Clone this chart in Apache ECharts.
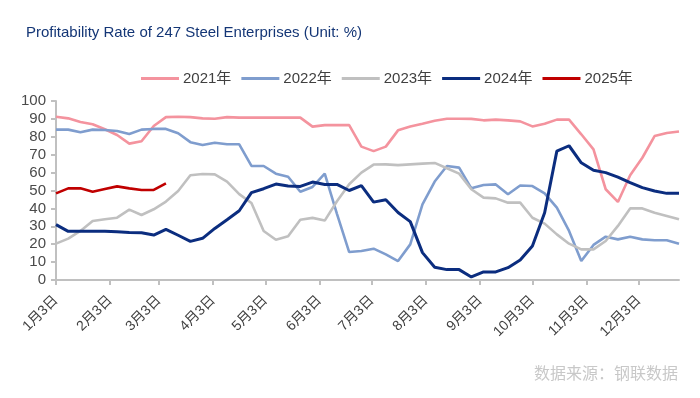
<!DOCTYPE html>
<html>
<head>
<meta charset="utf-8">
<script src="https://cdn.jsdelivr.net/npm/echarts@6/dist/echarts.min.js"></script>
<style>
  html, body { margin: 0; padding: 0; background: #fff; }
  #main { width: 700px; height: 398px; }
</style>
</head>
<body>
<div id="main"></div>
<script>
// weekly profitability rate (%), one value per week starting 1月3日
var y2021 = [91.2, 90.3, 88.3, 87, 84.2, 81, 76.2, 77.5, 86, 91, 91.2, 91, 90.3, 90.1, 91, 90.7, 90.7, 90.7, 90.7, 90.7,
  90.7, 85.7, 86.5, 86.5, 86.5, 74.5, 72, 74.5, 83.6, 85.7, 87.3, 89, 90.1, 90.1, 90, 89.2, 89.6, 89.2, 88.6, 85.8,
  87.3, 89.6, 89.6, 81.4, 73, 50.7, 43.6, 58.5, 68.3, 80.4, 82.1, 83];
var y2022 = [84, 84, 82.5, 84, 83.8, 83.2, 81.6, 84, 84.4, 84.4, 82, 77, 75.4, 76.7, 75.8, 75.8, 63.7, 63.7, 59.4, 57.7,
  49.3, 52, 59.4, 37, 15.6, 16.2, 17.5, 14.3, 10.6, 19.9, 42.3, 55, 63.7, 62.8, 51.2, 53.1, 53.4, 47.9, 52.8, 52.5,
  48.4, 40.4, 27.4, 10.6, 19.6, 24.2, 22.7, 24.2, 22.7, 22.2, 22.2, 20.3];
var y2023 = [20.3, 23.1, 27.4, 33, 33.9, 34.8, 39.3, 36.3, 39.5, 43.8, 49.7, 58.5, 59.2, 59, 55, 48, 43, 27.4, 22.5, 24.4,
  33.7, 34.7, 33.2, 44, 53.5, 60, 64.5, 64.6, 64.2, 64.6, 65, 65.4, 62.4, 59.4, 50.7, 46, 45.6, 43.2, 43.2, 34.8,
  31.5, 25.5, 20.3, 17.1, 17.1, 21.8, 30.2, 40, 40, 37.6, 35.8, 33.9];
var y2024 = [30.9, 27.2, 27.2, 27.2, 27.2, 27, 26.6, 26.4, 25.1, 28.3, 25, 21.6, 23.3, 28.8, 33.7, 38.7, 48.8, 51, 53.6, 52.5,
  52.3, 54.7, 53.4, 53.4, 50, 52.7, 43.5, 44.8, 37.7, 32.6, 15.3, 7.1, 5.8, 5.8, 1.7, 4.5, 4.5, 6.9, 11.2, 19,
  37.6, 72, 75, 65.5, 61.3, 60, 57.5, 54.4, 51.6, 49.7, 48.4, 48.4];
var y2025 = [48.4, 51.2, 51.2, 49.3, 50.8, 52.3, 51.2, 50.3, 50.3, 54];

var seriesNames = ['2021年', '2022年', '2023年', '2024年', '2025年'];
// tick positions in days after 1月3日, and their labels
var tickDays = [0, 31, 59, 90, 120, 151, 181, 212, 243, 273, 304, 334];
var tickLabels = ['1月3日', '2月3日', '3月3日', '4月3日', '5月3日', '6月3日',
  '7月3日', '8月3日', '9月3日', '10月3日', '11月3日', '12月3日'];

var colors = ['#f4939e', '#7f9dce', '#c0c0c0', '#0b2d7f', '#c00000'];
var font = '"Liberation Sans", Arial, "Noto Sans CJK SC", sans-serif';

function weekly(arr) {
  return arr.map(function (v, i) { return [i * 7, v]; });
}

var allData = [y2021, y2022, y2023, y2024, y2025];

var option = {
  animation: false,
  backgroundColor: '#fff',
  textStyle: { fontFamily: font },
  title: [{
    text: 'Profitability Rate of 247 Steel Enterprises (Unit: %)',
    left: 21,
    top: 20,
    textStyle: { color: '#143676', fontSize: 15, fontWeight: 'normal', fontFamily: font }
  }, {
    text: '数据来源：钢联数据',
    right: 17,
    top: 360,
    textStyle: { color: '#c8c8c8', fontSize: 16, fontWeight: 'normal', fontFamily: '"Noto Sans CJK SC", sans-serif' }
  }],
  legend: {
    left: 136,
    top: 66,
    icon: 'rect',
    itemWidth: 38,
    itemHeight: 3,
    itemGap: 10,
    textStyle: { color: '#404040', fontSize: 15, fontFamily: font, padding: [0, 0, 0, -1] },
    data: seriesNames
  },
  grid: { left: 56, right: 21, top: 101, bottom: 118, outerBoundsMode: 'none' },
  xAxis: {
    type: 'value',
    min: 0,
    max: 357,
    splitLine: { show: false },
    axisLine: { lineStyle: { color: '#c0c0c0', width: 2 } },
    axisTick: { customValues: tickDays, length: 5, lineStyle: { color: '#c0c0c0', width: 2 } },
    axisLabel: {
      customValues: tickDays,
      rotate: 45,
      margin: 18,
      color: '#404040',
      fontSize: 14,
      fontFamily: font,
      formatter: function (v) {
        var k = tickDays.indexOf(v);
        return k >= 0 ? tickLabels[k] : '';
      }
    }
  },
  yAxis: {
    type: 'value',
    min: 0,
    max: 100,
    interval: 10,
    splitLine: { show: false },
    axisLine: { show: true, lineStyle: { color: '#c0c0c0', width: 2 } },
    axisTick: { show: true, length: 5, lineStyle: { color: '#c0c0c0', width: 2 } },
    axisLabel: { color: '#4a4a4a', fontSize: 15, margin: 10, fontFamily: font }
  },
  series: seriesNames.map(function (name, k) {
    return {
      name: name,
      type: 'line',
      symbol: 'none',
      color: colors[k],
      lineStyle: { width: k === 3 ? 3 : 2.6, color: colors[k] },
      data: weekly(allData[k])
    };
  })
};

var chart = echarts.init(document.getElementById('main'), null, { renderer: 'canvas' });
chart.setOption(option);
</script>
</body>
</html>
